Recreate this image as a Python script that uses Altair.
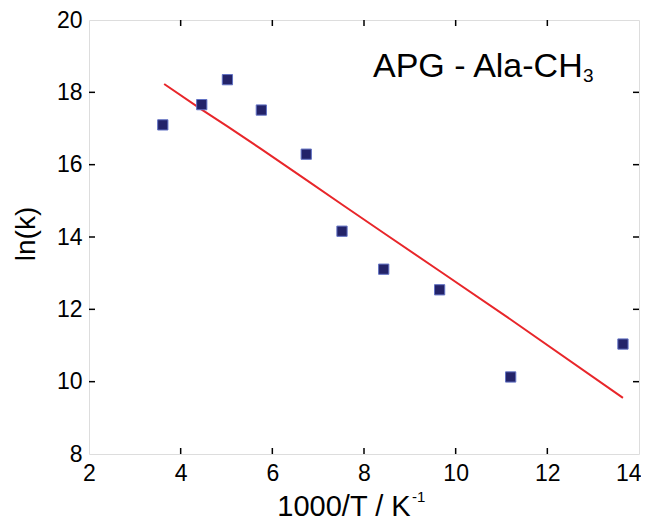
import altair as alt
import pandas as pd

# measured data points
x_vals = [3.61, 4.46, 5.02, 5.76, 6.74, 7.52, 8.43, 9.65, 11.2, 13.65]
lnk_vals = [17.10, 17.66, 18.35, 17.51, 16.29, 14.16, 13.11, 12.54, 10.13, 11.04]

# fitted line
fit_x = [3.64, 4.46, 5.02, 5.76, 6.74, 7.52, 8.43, 9.65, 11.2, 13.65]
fit_y = [18.23, 17.52, 17.06, 16.43, 15.58, 14.90, 14.11, 13.06, 11.72, 9.55]

x_tick_labels = [2, 4, 6, 8, 10, 12, 14]
y_tick_labels = [8, 10, 12, 14, 16, 18, 20]
x_inner_ticks = [4, 6, 8, 10, 12]
y_inner_ticks = [10, 12, 14, 16, 18]

annotation = "APG - Ala-CH"
annotation_sub = "3"
x_title = "1000/T / K"
x_title_sup = "-1"
y_title = "ln(k)"

W, H = 550, 434
FONT = "Liberation Sans"

xscale = alt.Scale(domain=[2, 14], nice=False, zero=False)
yscale = alt.Scale(domain=[8, 20], nice=False, zero=False)

xaxis = alt.Axis(values=x_tick_labels, format="d", labelFontSize=23, labelFont=FONT,
                 labelColor="black", ticks=False, tickSize=0, domain=False, grid=False,
                 labelPadding=8, labelFlush=False, title=None,
                 labelAlign=alt.expr("datum.value == 14 ? 'right' : 'center'"),
                 labelOffset=alt.expr("datum.value == 14 ? 2 : 0"))
yaxis = alt.Axis(values=y_tick_labels, format="d", labelFontSize=23, labelFont=FONT,
                 labelColor="black", ticks=False, tickSize=0, domain=False, grid=False,
                 labelPadding=7, labelFlush=False, title=None)

xenc = alt.X("x:Q", scale=xscale, axis=xaxis)
yenc = alt.Y("y:Q", scale=yscale, axis=yaxis)

pts = pd.DataFrame({"x": x_vals, "y": lnk_vals})
fit = pd.DataFrame({"x": fit_x, "y": fit_y})
xt = pd.DataFrame({"x": x_inner_ticks})
yt = pd.DataFrame({"y": y_inner_ticks})

line = alt.Chart(fit).mark_line(color="#e8262a", strokeWidth=2).encode(x=xenc, y=yenc)
points = alt.Chart(pts).mark_square(size=105, filled=True, color="#232369",
                                     stroke="#6272c4", strokeWidth=1, opacity=1).encode(x=xenc, y=yenc)

tick_style = dict(color="black", strokeWidth=1.5)
bottom_ticks = alt.Chart(xt).mark_rule(**tick_style).encode(x=xenc, y=alt.value(H), y2=alt.value(H - 6))
top_ticks = alt.Chart(xt).mark_rule(**tick_style).encode(x=xenc, y=alt.value(0), y2=alt.value(6))
left_ticks = alt.Chart(yt).mark_rule(**tick_style).encode(y=yenc, x=alt.value(0), x2=alt.value(6))
right_ticks = alt.Chart(yt).mark_rule(**tick_style).encode(y=yenc, x=alt.value(W), x2=alt.value(W - 6))

ann = alt.Chart(pd.DataFrame({"t": [annotation]})).mark_text(
    font=FONT, fontSize=34, color="black", align="left", baseline="alphabetic"
).encode(x=alt.value(284), y=alt.value(57), text="t:N")
ann_sub = alt.Chart(pd.DataFrame({"t": [annotation_sub]})).mark_text(
    font=FONT, fontSize=19, color="black", align="left", baseline="alphabetic"
).encode(x=alt.value(494), y=alt.value(62), text="t:N")

xt_main = alt.Chart(pd.DataFrame({"t": [x_title]})).mark_text(
    font=FONT, fontSize=29, color="black", align="center", baseline="alphabetic"
).encode(x=alt.value(255), y=alt.value(496), text="t:N")
xt_sup = alt.Chart(pd.DataFrame({"t": [x_title_sup]})).mark_text(
    font=FONT, fontSize=15, color="black", align="left", baseline="alphabetic"
).encode(x=alt.value(323), y=alt.value(482), text="t:N")

yt_main = alt.Chart(pd.DataFrame({"t": [y_title]})).mark_text(
    font=FONT, fontSize=28, color="black", align="center", baseline="alphabetic", angle=270
).encode(x=alt.value(-54), y=alt.value(214), text="t:N")

chart = alt.layer(
    line, points, bottom_ticks, top_ticks, left_ticks, right_ticks,
    ann, ann_sub, xt_main, xt_sup, yt_main
).properties(
    width=W, height=H,
    padding={"left": 81, "top": 12, "right": 2, "bottom": 67},
    autosize=alt.AutoSizeParams(type="none"),
).configure_view(
    stroke="black", strokeWidth=2.5
).configure(background="white")

chart.save("out.html", embed_options={"renderer": "svg", "actions": False})
